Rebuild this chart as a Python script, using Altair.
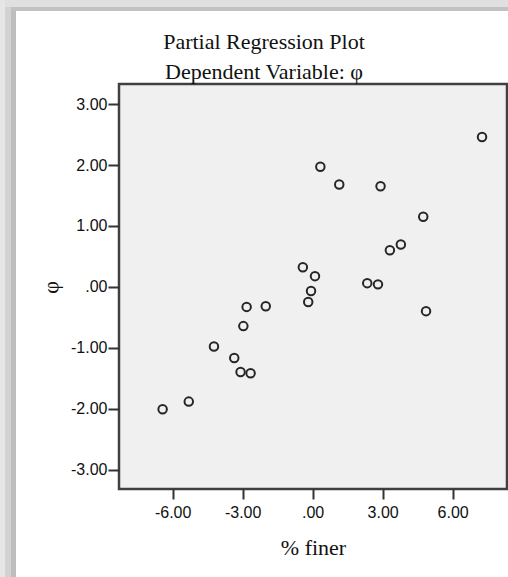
import altair as alt
import pandas as pd

# Partial regression residuals
finer = [-6.43, -5.31, -4.23, -3.36, -3.09, -2.66, -2.97, -2.83, -2.01,
         -0.42, 0.10, -0.07, -0.19, 0.33, 1.14, 2.91, 2.34, 2.80, 3.31,
         3.78, 4.74, 4.86, 7.26]
phi = [-2.01, -1.885, -0.98, -1.17, -1.40, -1.42, -0.645, -0.33, -0.32,
       0.32, 0.175, -0.07, -0.25, 1.97, 1.68, 1.65, 0.06, 0.04, 0.60,
       0.695, 1.15, -0.40, 2.46]
x_ticks = [-6, -3, 0, 3, 6]
y_ticks = [-3, -2, -1, 0, 1, 2, 3]

df = pd.DataFrame({"finer": finer, "phi": phi})
one = pd.DataFrame({"k": [0]})

label_expr = "datum.value == 0 ? '.00' : (datum.value < 0 ? '-' : '') + format(abs(datum.value), '.2f')"

points = alt.Chart(df).mark_point(
    shape="circle", filled=False, stroke="#262626", strokeWidth=2, size=72, opacity=1
).encode(
    x=alt.X("finer:Q",
            scale=alt.Scale(domain=[-8.3, 8.33], nice=False, zero=False),
            axis=alt.Axis(values=x_ticks, title="% finer", labelExpr=label_expr,
                          grid=False, domain=False, tickSize=10, tickWidth=2,
                          tickColor="#333333", labelPadding=5,
                          labelFont="Liberation Sans", labelFontSize=16,
                          labelColor="#111111",
                          titleFont="Liberation Serif", titleFontSize=22,
                          titleFontWeight="normal", titleColor="#111111",
                          titleY=65, titleBaseline="alphabetic")),
    y=alt.Y("phi:Q",
            scale=alt.Scale(domain=[-3.32, 3.33], nice=False, zero=False),
            axis=alt.Axis(values=y_ticks, title="φ", labelExpr=label_expr,
                          grid=False, domain=False, tickSize=11, tickWidth=2,
                          tickColor="#333333", labelPadding=1,
                          labelFont="Liberation Sans", labelFontSize=16,
                          labelColor="#111111",
                          titleFont="Liberation Serif", titleFontSize=22,
                          titleFontWeight="normal", titleColor="#111111",
                          titleX=-69, titleY=203, titleAlign="center",
                          titleBaseline="middle", titleAngle=270)),
)

def band(x1, x2, y1, y2, color):
    return alt.Chart(one).mark_rect(color=color, clip=False).encode(
        x=alt.value(x1), x2=alt.value(x2), y=alt.value(y1), y2=alt.value(y2))

# decorative frame shadow (left and top edges of the picture)
frame = [
    band(-119, -114, -84, 493, "#e6e6e6"),
    band(-114, -108, -84, 493, "#d2d2d2"),
    band(-108, -103, -73, 493, "#bdbdbd"),
    band(-114, 389, -84, -77, "#e0e0e0"),
    band(-108, 389, -77, -73, "#c2c2c2"),
]

chart = alt.layer(*frame, points).properties(
    width=388,
    height=405,
    padding={"left": 119, "top": 84, "right": 1, "bottom": 88},
    autosize=alt.AutoSizeParams(type="none"),
    background="white",
    title=alt.TitleParams(
        text=["Partial Regression Plot", "Dependent Variable: φ"],
        font="Liberation Serif", fontSize=22, fontWeight="normal",
        color="#111111", lineHeight=30, anchor="middle", frame="group",
        dx=-49, dy=108, offset=2, baseline="bottom",
    ),
).configure_view(
    fill="#f0f0f0", stroke="#404040", strokeWidth=2.5
)

chart.save("out.html", embed_options={"renderer": "svg", "actions": False})
